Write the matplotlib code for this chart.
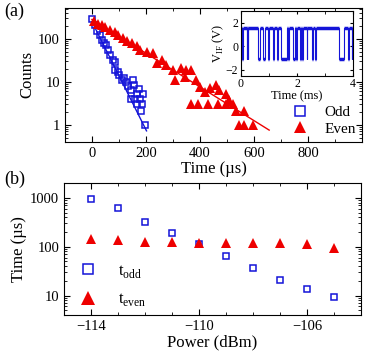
import numpy as np
import matplotlib
matplotlib.use("Agg")
import matplotlib.pyplot as plt

plt.rcParams["font.family"] = ["Liberation Serif", "DejaVu Serif"]
plt.rcParams["mathtext.fontset"] = "custom"
plt.rcParams["mathtext.rm"] = "Liberation Serif"

BLUE = "#1414d8"
RED = "#ee0000"

# ---- (a) 计数直方图 ----
odd_t = [0, 10, 18, 28, 37, 43, 53, 59, 68, 77, 86, 86, 95, 102, 110, 117, 126,
         135, 143, 145, 151, 157, 160, 166, 166, 175, 178, 181, 184, 190, 196]
odd_n = [280, 213, 148, 124, 95, 79, 72, 55, 42, 32, 29, 19, 17, 14, 11, 12, 10,
         7.8, 6.3, 4, 11, 8.3, 4, 5.3, 3.1, 6.9, 4, 2.1, 3.1, 5.3, 1]
even_t = [6, 21, 37, 49, 67, 86, 98, 114, 129, 147, 166, 178, 202, 227, 239, 258,
          274, 301, 307, 331, 344, 350, 368, 368, 387, 393, 399, 417, 429, 436,
          460, 466, 472, 497, 497, 509, 521, 534, 546, 564, 564, 595]
even_n = [256, 225, 203, 188, 163, 141, 124, 104, 87, 79, 66, 55, 50, 46, 27, 32,
          24, 19, 11, 21, 13, 19, 19, 3.1, 11, 3.1, 7.6, 5.8, 3.1, 7.3,
          8.3, 3.1, 6.3, 5.3, 3.1, 3.7, 3.1, 2.1, 1, 2.1, 1, 1]
odd_fit_t = [0, 202]
odd_fit_n = [250, 0.72]
even_fit_t = [0, 656]
even_fit_n = [280, 0.75]

# ---- 插图: 电报噪声 ----
V_HIGH = 1.6
V_LOW = -1.1
low_start = [0.05, 0.21, 0.25, 0.63, 0.78, 0.98, 1.16, 1.28, 1.42, 1.69, 1.87,
             1.96, 2.11, 2.19, 2.34, 2.52, 2.64, 3.49, 3.82, 3.94]
low_end = [0.07, 0.23, 0.27, 0.69, 0.86, 1.02, 1.18, 1.34, 1.63, 1.72, 1.93,
           1.99, 2.13, 2.22, 2.36, 2.56, 2.66, 3.68, 3.84, 3.96]

# ---- (b) 寿命 vs 功率 ----
power = [-114, -113, -112, -111, -110, -109, -108, -107, -106, -105]
t_odd = [970, 625, 318, 190, 115, 64, 36, 20.5, 13.5, 9.4]
t_even = [146, 135, 124, 126, 122, 119, 119, 119, 115, 94]


def style_ax(ax):
    ax.tick_params(which="both", direction="in", top=True, right=True, labelsize=10.5)
    ax.tick_params(which="major", length=4)
    ax.tick_params(which="minor", length=2)


fig = plt.figure(figsize=(3.71, 3.60), dpi=100)

axa = fig.add_axes([0.175, 0.606, 0.801, 0.372])
axa.set_yscale("log")
axa.plot(odd_fit_t, odd_fit_n, color=BLUE, lw=1)
axa.plot(even_fit_t, even_fit_n, color=RED, lw=1)
axa.plot(odd_t, odd_n, "s", mfc="none", mec=BLUE, mew=1.1, ms=5, label="Odd")
axa.plot(even_t, even_n, "^", color=RED, ms=7, mew=0, label="Even")
axa.set_xlim(-100, 1000)
axa.set_ylim(0.4, 520)
axa.set_xticks([0, 200, 400, 600, 800])
axa.set_xticks(np.arange(-100, 1001, 100), minor=True)
axa.set_yticks([1, 10, 100])
axa.set_yticklabels(["1", "10", "100"])
axa.set_xlabel("Time (\u00b5s)", fontsize=12, labelpad=1)
axa.set_ylabel("Counts", fontsize=12, labelpad=2)
style_ax(axa)
axa.legend(loc="lower right", frameon=False, fontsize=11, handletextpad=0.6,
           borderaxespad=0.0, labelspacing=0.2, markerscale=1.3)

ins = fig.add_axes([0.649, 0.790, 0.303, 0.179])
tt = [0.0]
vv = [V_HIGH]
for s, e in zip(low_start, low_end):
    tt += [s, s, e, e]
    vv += [V_HIGH, V_LOW, V_LOW, V_HIGH]
tt.append(4.0)
vv.append(V_HIGH)
ins.plot(tt, vv, color=BLUE, lw=0.8)
hi_s = [0.0] + low_end
hi_e = low_start + [4.0]
for s, e in zip(hi_s, hi_e):
    ins.plot([s, e], [V_HIGH, V_HIGH], color=BLUE, lw=2.5, solid_capstyle="butt")
for s, e in zip(low_start, low_end):
    ins.plot([s, e], [V_LOW, V_LOW], color=BLUE, lw=2.5, solid_capstyle="butt")
ins.set_xlim(0, 4)
ins.set_ylim(-2.5, 3.0)
ins.set_xticks([0, 2, 4])
ins.set_yticks([-2, 0, 2])
ins.set_xticks([1, 3], minor=True)
ins.tick_params(which="both", direction="in", top=True, right=True, labelsize=8.5,
                pad=2, length=2.5)
ins.set_xlabel("Time (ms)", fontsize=9, labelpad=0)
ins.set_ylabel("V$_{\\rm IF}$ (V)", fontsize=9, labelpad=0)

axb = fig.add_axes([0.173, 0.125, 0.80, 0.366])
axb.set_yscale("log")
axb.plot(power, t_odd, "s", mfc="none", mec=BLUE, mew=1.1, ms=4.5,
         label="t$_{\\rm odd}$")
axb.plot(power, t_even, "^", color=RED, ms=6.5, mew=0, label="t$_{\\rm even}$")
axb.set_xlim(-115, -104)
axb.set_ylim(4, 2000)
axb.set_xticks([-114, -110, -106])
axb.set_xticks(np.arange(-115, -103, 1), minor=True)
axb.set_yticks([10, 100, 1000])
axb.set_yticklabels(["10", "100", "1000"])
axb.set_xlabel("Power (dBm)", fontsize=12, labelpad=1)
axb.set_ylabel("Time (\u00b5s)", fontsize=12, labelpad=2)
style_ax(axb)
axb.legend(loc="lower left", frameon=False, fontsize=12, handletextpad=0.8,
           borderaxespad=0.0, labelspacing=0.7, markerscale=1.6,
           bbox_to_anchor=(0.0, 0.0))

fig.text(0.012, 0.955, "(a)", fontsize=13)
fig.text(0.012, 0.49, "(b)", fontsize=13)

fig.savefig("out.png", dpi=100)
